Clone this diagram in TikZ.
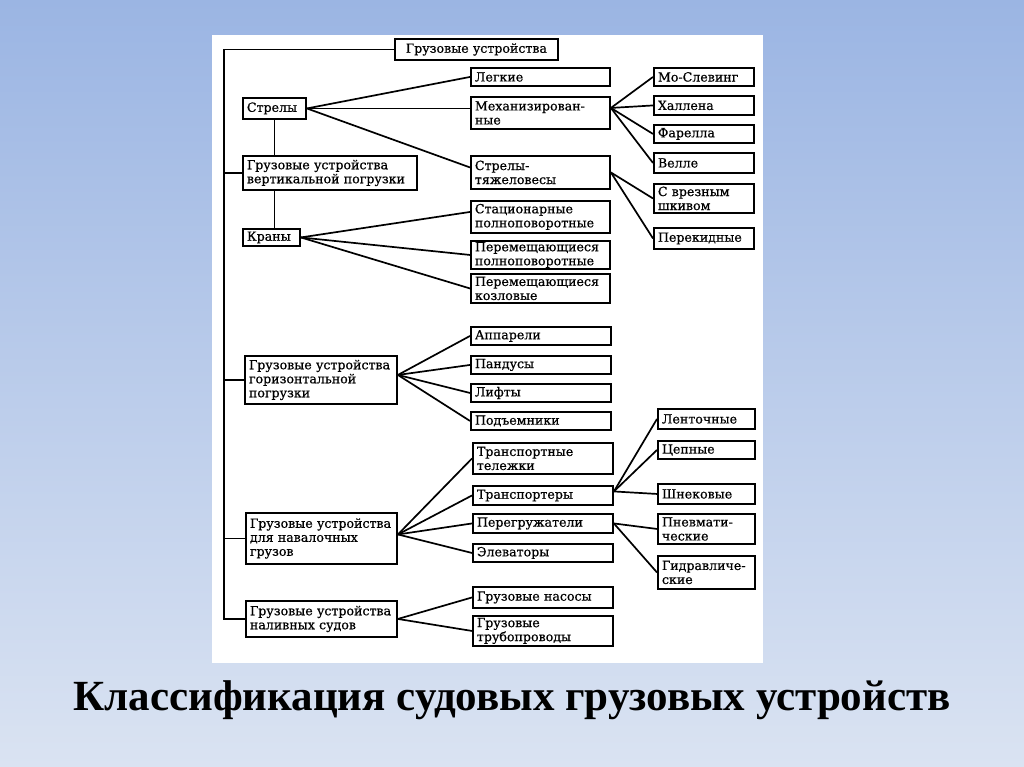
\documentclass[tikz,border=0pt]{standalone}
\usepackage{fontspec}
\setmainfont{DejaVu Serif}
\newfontfamily\bxfont{DejaVu Serif}[FakeBold=0.6]
\newfontfamily\ttlfont{Liberation Serif}
\usetikzlibrary{calc}
\tikzset{
  bx/.style={draw, line width=1.9pt, fill=white, anchor=north west,
    inner xsep=4pt, inner ysep=1pt, align=left,
    font=\bxfont\fontsize{12.6}{14}\selectfont},
  ln/.style={line width=1.7pt},
}
\begin{document}
\begin{tikzpicture}[x=1pt,y=-1pt]
\useasboundingbox (0,0) rectangle (1024,767);
\shade[top color={rgb,255:red,155;green,181;blue,227}, bottom color={rgb,255:red,218;green,227;blue,242}] (0,0) rectangle (1024,767);
\fill[white] (212,35) rectangle (763,663);

% column 1
\node[bx, text width=155, minimum height=21, align=center] (top) at (394,38) {Грузовые устройства};
\node[bx, text width=55, minimum height=21] (strely) at (242,97) {Стрелы};
\node[bx, text width=166, minimum height=34] (guvp) at (242,155) {Грузовые устройства\\вертикальной погрузки};
\node[bx, text width=49, minimum height=17] (krany) at (242,228) {Краны};
\node[bx, text width=144, minimum height=48] (gor) at (244,355) {Грузовые устройства\\горизонтальной\\погрузки};
\node[bx, text width=143, minimum height=51] (nav) at (245,512) {Грузовые устройства\\для навалочных\\грузов};
\node[bx, text width=143, minimum height=36] (nal) at (245,600) {Грузовые устройства\\наливных судов};

% column 2
\node[bx, text width=131, minimum height=18] (legk) at (470,67) {Легкие};
\node[bx, text width=131, minimum height=32] (mech) at (470,96) {Механизирован-\\ные};
\node[bx, text width=131, minimum height=33] (tyazh) at (470,155) {Стрелы-\\тяжеловесы};
\node[bx, text width=131, minimum height=32] (stac) at (470,200) {Стационарные\\полноповоротные};
\node[bx, text width=131, minimum height=28] (perpol) at (470,240) {Перемещающиеся\\полноповоротные};
\node[bx, text width=131, minimum height=29] (perkoz) at (470,273) {Перемещающиеся\\козловые};
\node[bx, text width=132, minimum height=18] (app) at (470,326) {Аппарели};
\node[bx, text width=132, minimum height=18] (pand) at (470,355) {Пандусы};
\node[bx, text width=132, minimum height=18] (lift) at (470,383) {Лифты};
\node[bx, text width=132, minimum height=18] (podj) at (470,411) {Подъемники};
\node[bx, text width=132, minimum height=31] (tt) at (472,442) {Транспортные\\тележки};
\node[bx, text width=132, minimum height=19] (trp) at (472,485) {Транспортеры};
\node[bx, text width=132, minimum height=19] (perg) at (472,513) {Перегружатели};
\node[bx, text width=132, minimum height=18] (elev) at (472,543) {Элеваторы};
\node[bx, text width=132, minimum height=21] (nas) at (472,586) {Грузовые насосы};
\node[bx, text width=132, minimum height=30] (trub) at (472,615) {Грузовые\\трубопроводы};

% column 3
\node[bx, text width=92, minimum height=18] (mos) at (653,67) {Мо-Слевинг};
\node[bx, text width=92, minimum height=19] (hal) at (653,95) {Халлена};
\node[bx, text width=92, minimum height=18] (far) at (653,124) {Фарелла};
\node[bx, text width=92, minimum height=20] (vel) at (653,152) {Велле};
\node[bx, text width=92, minimum height=29] (svr) at (653,183) {С врезным\\шкивом};
\node[bx, text width=92, minimum height=21] (perek) at (653,227) {Перекидные};
\node[bx, text width=89, minimum height=20] (lent) at (657,408) {Ленточные};
\node[bx, text width=89, minimum height=18] (cep) at (657,440) {Цепные};
\node[bx, text width=89, minimum height=20] (shnek) at (657,483) {Шнековые};
\node[bx, text width=89, minimum height=30] (pnev) at (657,513) {Пневмати-\\ческие};
\node[bx, text width=89, minimum height=33] (gidr) at (657,555) {Гидравличе-\\ские};

% trunk
\coordinate (trunk) at (224,0);
\draw[ln] (top.west) -| (trunk |- nal.west) -- (nal.west);
\draw[ln] (trunk |- guvp.west) -- (guvp.west);
\draw[ln] (trunk |- gor.west) -- (gor.west);
\draw[ln] (trunk |- nav.west) -- (nav.west);
\draw[ln] (strely.south) -- (strely.south |- guvp.north);
\draw[ln] (strely.south |- guvp.south) -- (strely.south |- krany.north);

% fans
\draw[ln] (strely.east) -- (legk.west);
\draw[ln] (strely.east) -- (strely.east -| mech.west);
\draw[ln] (strely.east) -- ($(tyazh.west)+(0,-5)$);
\coordinate (mechout) at ($(mech.east)+(0,-5)$);
\foreach \t in {mos,hal,far,vel} \draw[ln] (mechout) -- (\t.west);
\foreach \t in {svr,perek} \draw[ln] (tyazh.east) -- (\t.west);
\draw[ln] (krany.east) -- ($(stac.west)+(0,-5)$);
\foreach \t in {perpol,perkoz} \draw[ln] (krany.east) -- (\t.west);
\coordinate (gorout) at ($(gor.east)+(0,-5)$);
\foreach \t in {app,pand,lift,podj} \draw[ln] (gorout) -- (\t.west);
\coordinate (navout) at ($(nav.east)+(0,-4)$);
\foreach \t in {tt,trp,perg,elev} \draw[ln] (navout) -- (\t.west);
\coordinate (trpout) at ($(trp.east)+(0,-4)$);
\foreach \t in {lent,cep,shnek} \draw[ln] (trpout) -- (\t.west);
\foreach \t in {pnev,gidr} \draw[ln] (perg.east) -- (\t.west);
\foreach \t in {nas,trub} \draw[ln] (nal.east) -- (\t.west);

\node[font=\ttlfont\bfseries\fontsize{43}{50}\selectfont] (title) at (512,700) {Классификация судовых грузовых устройств};
\end{tikzpicture}
\end{document}
